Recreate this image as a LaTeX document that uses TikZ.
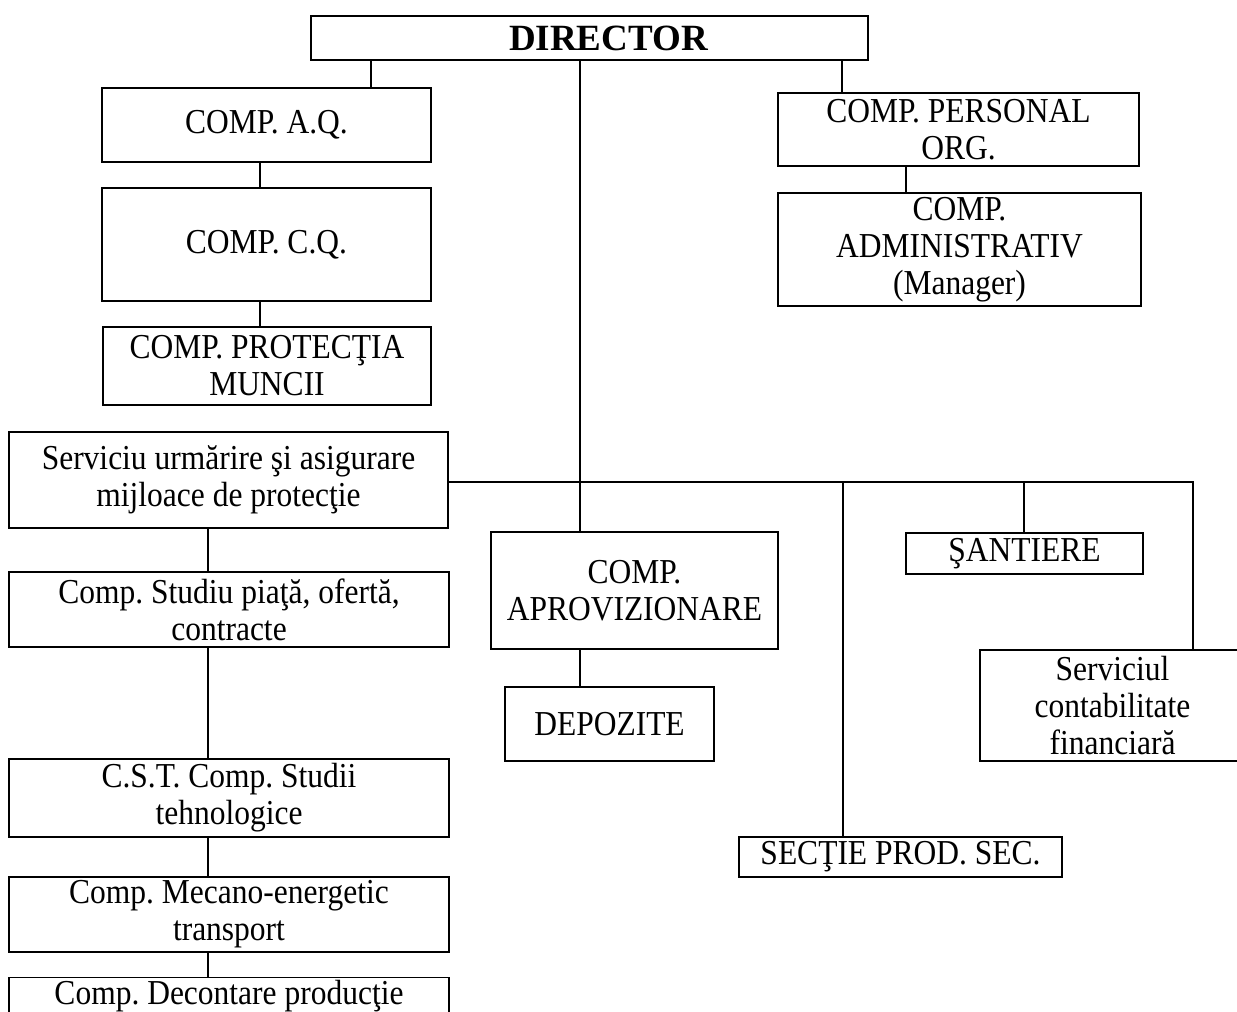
\documentclass[tikz,border=0pt]{standalone}
\usepackage{fontspec}
\setmainfont[FakeStretch=0.9]{Liberation Serif}
\newfontfamily\dirfont{Liberation Serif}
\begin{document}
\frenchspacing
\begin{tikzpicture}[x=1pt,y=-1pt,
  box/.style={draw, line width=1.3pt, rectangle, align=center, inner sep=2pt, font=\fontsize{35}{37}\selectfont},
  link/.style={line width=1.3pt}]
\useasboundingbox (0,0) rectangle (1237,1012);
% nodes
\node[box, line width=1.8pt, minimum width=557pt, minimum height=44pt, font=\dirfont\fontsize{37}{39}\selectfont\bfseries] (dir) at (589.5,38) {\hspace*{38pt}DIRECTOR};
\node[box, minimum width=329pt, minimum height=74pt] (aq) at (266.5,125) {COMP. A.Q.};
\node[box, minimum width=329pt, minimum height=113pt] (cq) at (266.5,244.5) {COMP. C.Q.};
\node[box, minimum width=328pt, minimum height=78pt] (pm) at (267,366) {COMP. PROTECŢIA\\MUNCII};
\node[box, minimum width=361pt, minimum height=73pt] (po) at (958.5,129.5) {COMP. PERSONAL\\ORG.};
\node[box, minimum width=363pt, minimum height=113pt] (adm) at (959.5,249.5) {COMP.\\ADMINISTRATIV\\(Manager)};
\node[box, minimum width=439pt, minimum height=96pt] (sua) at (228.5,480) {Serviciu urmărire şi asigurare\\mijloace de protecţie};
\node[box, minimum width=440pt, minimum height=75pt] (spo) at (229,609.5) {Comp. Studiu piaţă, ofertă,\\contracte};
\node[box, minimum width=440pt, minimum height=78pt] (cst) at (229,798) {C.S.T. Comp. Studii\\tehnologice};
\node[box, minimum width=440pt, minimum height=75pt] (mec) at (229,914.5) {Comp. Mecano-energetic\\transport};
\node[box, anchor=north, minimum width=440pt, inner ysep=3pt] (dec) at (229,977) {Comp. Decontare producţie\\~};
\node[box, minimum width=287pt, minimum height=117pt] (apr) at (634.5,590.5) {COMP.\\APROVIZIONARE};
\node[box, minimum width=209pt, minimum height=74pt] (dep) at (609.5,724) {DEPOZITE};
\node[box, minimum width=237pt, minimum height=41pt] (san) at (1024.5,553.5) {ŞANTIERE};
\node[box, minimum width=265pt, minimum height=111pt] (scf) at (1112.5,705.5) {Serviciul\\contabilitate\\financiară};
\node[box, minimum width=323pt, minimum height=40pt] (sec) at (900.5,857) {SECŢIE PROD. SEC.};
% connector guides
\coordinate (xa) at (371,0);
\coordinate (xl) at (260,0);
\coordinate (xm) at (580,0);
\coordinate (xr) at (842,0);
\coordinate (xp) at (906,0);
\coordinate (xc) at (208,0);
\coordinate (xs) at (843,0);
\coordinate (xt) at (1024,0);
\coordinate (xf) at (1193,0);
\coordinate (hb) at (0,482);
% connectors
\draw[link] (xa |- dir.south) -- (xa |- aq.north);
\draw[link] (xl |- aq.south) -- (xl |- cq.north);
\draw[link] (xl |- cq.south) -- (xl |- pm.north);
\draw[link] (xm |- dir.south) -- (xm |- apr.north);
\draw[link] (xm |- apr.south) -- (xm |- dep.north);
\draw[link] (xr |- dir.south) -- (xr |- po.north);
\draw[link] (xp |- po.south) -- (xp |- adm.north);
\draw[link] (sua.east |- hb) -- (xf |- hb) -- (xf |- scf.north);
\draw[link] (xs |- hb) -- (xs |- sec.north);
\draw[link] (xt |- hb) -- (xt |- san.north);
\draw[link] (xc |- sua.south) -- (xc |- spo.north);
\draw[link] (xc |- spo.south) -- (xc |- cst.north);
\draw[link] (xc |- cst.south) -- (xc |- mec.north);
\draw[link] (xc |- mec.south) -- (xc |- dec.north);
\end{tikzpicture}
\end{document}
